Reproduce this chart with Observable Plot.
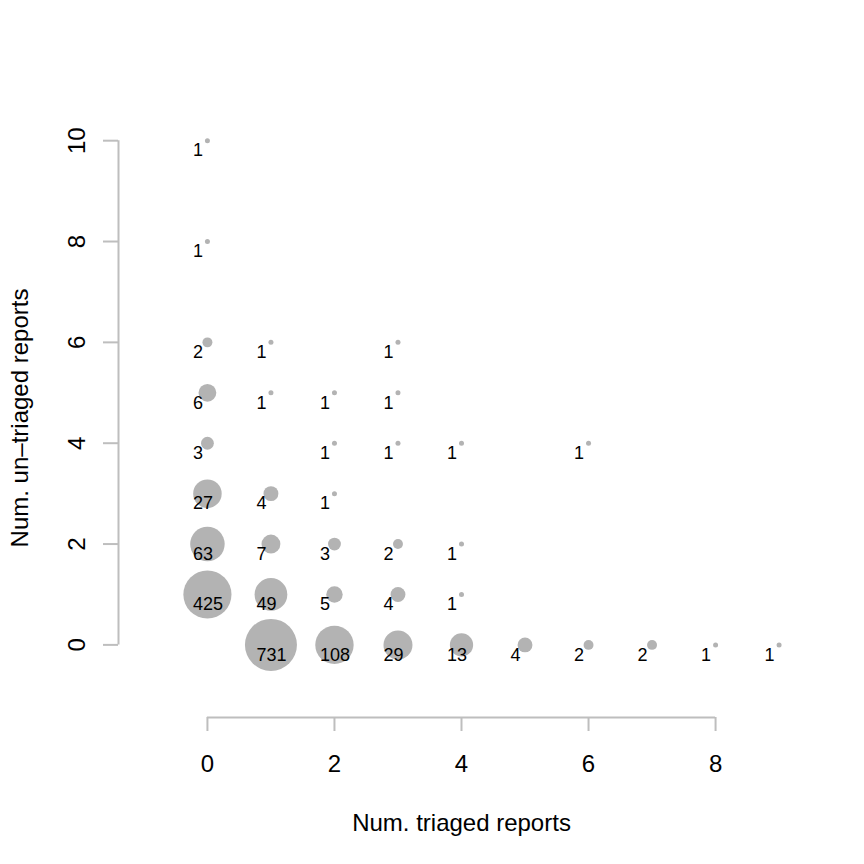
<!DOCTYPE html>
<html>
<head>
<meta charset="utf-8">
<script src="https://cdn.jsdelivr.net/npm/d3@7"></script>
<script src="https://cdn.jsdelivr.net/npm/@observablehq/plot@0.6"></script>
<style>
  html, body { margin: 0; padding: 0; background: white; }
  #chart svg { display: block; }
</style>
</head>
<body>
<div id="chart"></div>
<script>
// Data: number of triaged reports (x), un-triaged reports (y), count of cases
const triaged   = [0, 0, 0, 1, 3, 0, 1, 2, 3, 0, 2, 3, 4, 6, 0, 1, 2, 0, 1, 2, 3, 4, 0, 1, 2, 3, 4, 1, 2, 3, 4, 5, 6, 7, 8, 9];
const untriaged = [10, 8, 6, 6, 6, 5, 5, 5, 5, 4, 4, 4, 4, 4, 3, 3, 3, 2, 2, 2, 2, 2, 1, 1, 1, 1, 1, 0, 0, 0, 0, 0, 0, 0, 0, 0];
const counts    = [1, 1, 2, 1, 1, 6, 1, 1, 1, 3, 1, 1, 1, 1, 27, 4, 1, 63, 7, 3, 2, 1, 425, 49, 5, 4, 1, 731, 108, 29, 13, 4, 2, 2, 1, 1];

const xTicks = [0, 2, 4, 6, 8];
const yTicks = [0, 2, 4, 6, 8, 10];
const xLabel = "Num. triaged reports";
const yLabel = "Num. un\u2013triaged reports";

const data = counts.map((n, i) => ({x: triaged[i], y: untriaged[i], n}));

// R-style 4% axis extension of xlim = [-1, 9], ylim = [-1, 10]
const ext = (a, b) => [a - (b - a) * 0.04, b + (b - a) * 0.04];
const xDom = ext(-1, 9);
const yDom = ext(-1, 10);

const font = "'Liberation Sans', Arial, Helvetica, sans-serif";
const axisGray = "#bebebe";

const chart = Plot.plot({
  width: 864,
  height: 864,
  marginLeft: 118,
  marginRight: 60,
  marginTop: 118,
  marginBottom: 147,
  x: {domain: xDom},
  y: {domain: yDom},
  r: {type: "log", domain: [1, 731], range: [2.5, 26]},
  style: {fontFamily: font, background: "white", color: "black", overflow: "visible"},
  marks: [
    // axis lines
    Plot.ruleY([yDom[0]], {x1: xTicks[0], x2: xTicks[xTicks.length - 1], stroke: axisGray, strokeWidth: 2}),
    Plot.ruleX([xDom[0]], {y1: yTicks[0], y2: yTicks[yTicks.length - 1], stroke: axisGray, strokeWidth: 2}),
    Plot.axisX(xTicks, {anchor: "bottom", tickSize: 14, tickPadding: 23, fontSize: 24, tickFormat: d => String(d), stroke: axisGray, fill: "black", strokeWidth: 2, label: null}),
    Plot.axisY(yTicks, {anchor: "left", tickSize: 15, tickFormat: () => "", stroke: axisGray, strokeWidth: 2, label: null}),
    Plot.text(yTicks, {y: d => d, frameAnchor: "left", text: d => String(d), rotate: -90, textAnchor: "middle", lineAnchor: "top", dx: -51, fontSize: 24, fill: "black"}),
    // bubbles
    Plot.dot(data, {x: "x", y: "y", r: "n", fill: "#b3b3b3", stroke: null}),
    // count labels
    Plot.text(data, {x: "x", y: "y", text: d => String(d.n), textAnchor: "start", dx: -14.5, dy: 10, fontSize: 18, fill: "black"}),
    // axis titles
    Plot.text([xLabel], {frameAnchor: "bottom", text: d => d, textAnchor: "middle", lineAnchor: "top", dy: 96, fontSize: 24, fill: "black"}),
    Plot.text([yLabel], {frameAnchor: "left", text: d => d, rotate: -90, textAnchor: "middle", lineAnchor: "top", dx: -108, fontSize: 24, fill: "black"})
  ]
});

document.getElementById("chart").appendChild(chart);
</script>
</body>
</html>
